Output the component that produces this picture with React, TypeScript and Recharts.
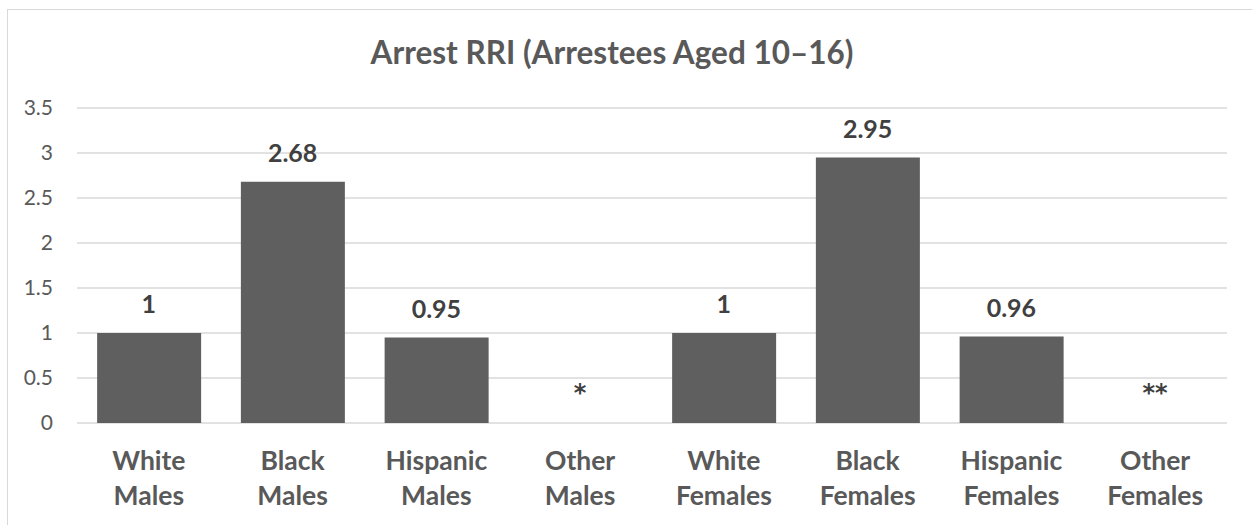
import React from 'react';
import { ComposedChart, Bar, Line, XAxis, YAxis, CartesianGrid, LabelList } from 'recharts';

const groups = ['White', 'Black', 'Hispanic', 'Other', 'White', 'Black', 'Hispanic', 'Other'];
const sexes = ['Males', 'Males', 'Males', 'Males', 'Females', 'Females', 'Females', 'Females'];
const rri = [1, 2.68, 0.95, 0, 1, 2.95, 0.96, 0];
const valueLabels = ['1', '2.68', '0.95', '*', '1', '2.95', '0.96', '**'];
const yTicks = [0, 0.5, 1, 1.5, 2, 2.5, 3, 3.5];

const data = rri.map((v, i) => ({
  name: `${groups[i]} ${sexes[i]}`,
  rri: v,
  label: valueLabels[i],
}));

const FONT = 'Lato, "Open Sans", sans-serif';
const TEXT = '#595959';

function XTick(props: any) {
  const { x, y, index } = props;
  return (
    <g>
      <text x={x} y={y + 47} textAnchor="middle" fontFamily={FONT} fontWeight={700} fontSize={26.5} fill={TEXT}>
        {groups[index]}
      </text>
      <text x={x} y={y + 82} textAnchor="middle" fontFamily={FONT} fontWeight={700} fontSize={26.5} fill={TEXT}>
        {sexes[index]}
      </text>
    </g>
  );
}

function YTick(props: any) {
  const { y, payload } = props;
  return (
    <text x={46} y={y} dy={7} textAnchor="end" fontFamily={FONT} fontSize={21} fill={TEXT}>
      {payload.value}
    </text>
  );
}

// value labels sit ~20px above the bar top (or the baseline for the empty "Other" bars)
function ValueLabel(props: any) {
  const { x, y, value } = props;
  const star = String(value).startsWith('*');
  return (
    <text
      x={x}
      y={star ? y - 22 : y - 20}
      textAnchor="middle"
      fontFamily={star ? '"DejaVu Sans", sans-serif' : FONT}
      fontWeight={700}
      fontSize={star ? 24 : 25}
      fill="#404040"
    >
      {value}
    </text>
  );
}

export default function App() {
  return (
    <div
      style={{
        position: 'absolute',
        left: 7,
        top: 9,
        width: 1245,
        height: 516,
        borderTop: '1.5px solid #d9d9d9',
        borderLeft: '1.5px solid #d9d9d9',
        boxSizing: 'border-box',
        background: '#fff',
        overflow: 'hidden',
      }}
    >
      <div
        style={{
          position: 'absolute',
          top: 26,
          left: 0,
          width: 1208,
          textAlign: 'center',
          fontFamily: FONT,
          fontWeight: 700,
          fontSize: 31.5,
          lineHeight: '32px',
          color: TEXT,
        }}
      >
        Arrest RRI (Arrestees Aged 10–16)
      </div>
      <ComposedChart
        width={1245}
        height={516}
        data={data}
        margin={{ top: 99, right: 25, left: 0, bottom: 0 }}
        barCategoryGap="14%"
        style={{ position: 'absolute', left: -1.5, top: -1.5 }}
      >
        <CartesianGrid vertical={false} stroke="#d9d9d9" strokeWidth={1.5} />
        <XAxis
          dataKey="name"
          height={102}
          axisLine={false}
          tickLine={false}
          tickSize={0}
          tickMargin={0}
          interval={0}
          tick={<XTick />}
        />
        <YAxis
          width={70}
          domain={[0, 3.5]}
          ticks={yTicks}
          axisLine={false}
          tickLine={false}
          tick={<YTick />}
        />
        <Bar dataKey="rri" fill="#5f5f5f" isAnimationActive={false} />
        <Line dataKey="rri" stroke="none" dot={false} activeDot={false} isAnimationActive={false}>
          <LabelList dataKey="label" content={<ValueLabel />} />
        </Line>
      </ComposedChart>
    </div>
  );
}
